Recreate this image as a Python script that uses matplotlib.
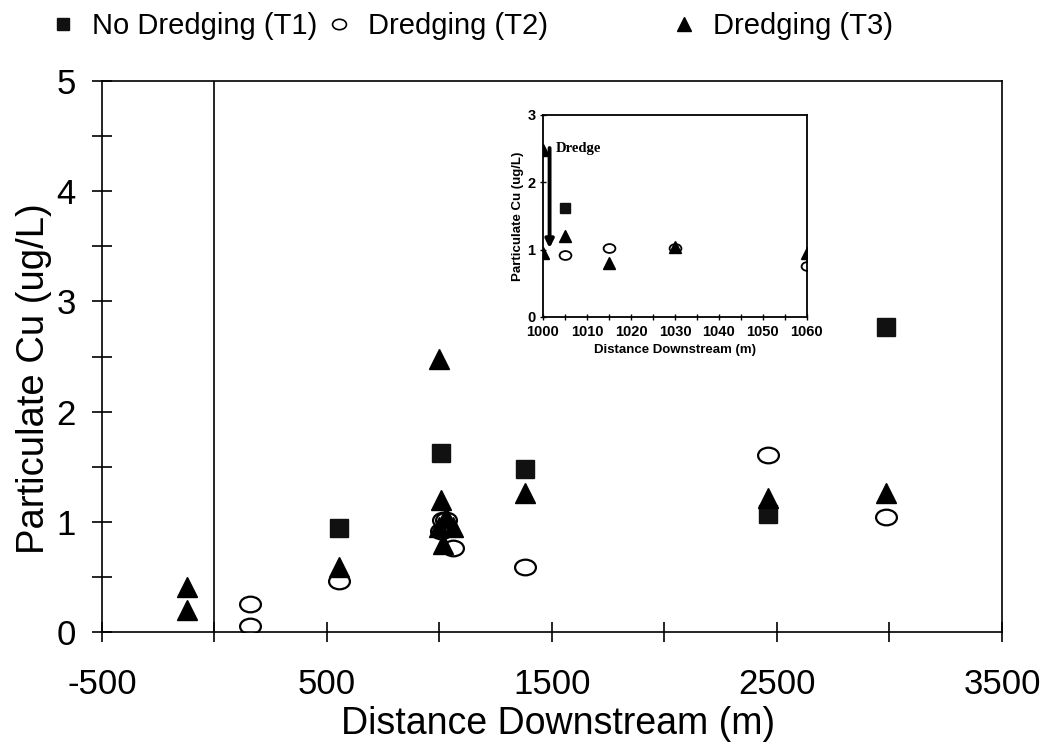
import numpy as np
import matplotlib
matplotlib.use("Agg")
import matplotlib.pyplot as plt
from matplotlib.lines import Line2D
from matplotlib.path import Path
from matplotlib.transforms import Affine2D

plt.rcParams['font.family'] = ['Liberation Sans', 'DejaVu Sans']

# distance downstream (m) and particulate Cu (ug/L) for each treatment
t1_x = [555, 1005, 1380, 2460, 2985]
t1_y = [0.94, 1.62, 1.48, 1.07, 2.77]

t2_x = [156, 156, 555, 1005, 1015, 1030, 1060, 1380, 2460, 2985]
t2_y = [0.25, 0.05, 0.46, 0.92, 1.02, 1.02, 0.76, 0.59, 1.61, 1.04]

t3_x = [-120, -120, 555, 1000, 1000, 1005, 1015, 1030, 1060, 1380, 2460, 2985]
t3_y = [0.41, 0.20, 0.59, 2.48, 0.95, 1.20, 0.80, 1.04, 0.95, 1.26, 1.22, 1.26]

labels = ["No Dredging (T1)", "Dredging (T2)", "Dredging (T3)"]

dredge_x = 1001.5
dredge_top = 2.55
dredge_bottom = 0.98

# the open circles in the original are a bit wider than tall
oval = Affine2D().scale(1.0, 0.75).transform_path(Path.unit_circle())

fig = plt.figure(figsize=(10.47, 7.49), dpi=100)
ax = fig.add_axes([0.0974, 0.1562, 0.8596, 0.7356])

# main plot
ax.plot(t1_x, t1_y, linestyle="none", marker="s", ms=13, color="#111111")
ax.plot(t2_x, t2_y, linestyle="none", marker=oval, ms=15, mfc="white", mec="black", mew=1.6)
ax.plot(t3_x, t3_y, linestyle="none", marker="^", ms=14, color="black")
ax.axvline(0, color="black", lw=1.2, zorder=0)

ax.set_xlim(-500, 3500)
ax.set_ylim(0, 5)
ax.set_xticks(np.arange(-500, 3501, 500))
ax.set_xticklabels(["-500", "", "500", "", "1500", "", "2500", "", "3500"])
ax.set_yticks(np.arange(0, 6, 1))
ax.set_yticks(np.arange(0, 5.01, 0.5), minor=True)
ax.tick_params(axis="both", which="both", direction="inout", length=14, width=1.2, labelsize=25)
ax.tick_params(axis="x", pad=19)
ax.tick_params(axis="y", pad=12)
for s in ax.spines.values():
    s.set_linewidth(1.2)

ax.set_xlabel("Distance Downstream (m)", fontsize=27)
ax.set_ylabel("Particulate Cu (ug/L)", fontsize=27.5)
ax.xaxis.set_label_coords(0.507, -0.135)
ax.yaxis.set_label_coords(-0.055, 0.46)

# legend across the top
handles = [
    Line2D([], [], linestyle="none", marker="s", ms=9, color="#111111"),
    Line2D([], [], linestyle="none", marker=oval, ms=10, mfc="white", mec="black", mew=1.2),
    Line2D([], [], linestyle="none", marker="^", ms=10, color="black"),
]
leg_kw = dict(frameon=False, fontsize=21, borderpad=0, borderaxespad=0,
              handlelength=1.0, handletextpad=0.5, columnspacing=0.25, loc="center left")
fig.legend(handles[:2], labels[:2], ncol=2, bbox_to_anchor=(48 / 1047, 1 - 26 / 749), **leg_kw)
fig.legend(handles[2:], labels[2:], ncol=1, bbox_to_anchor=(669 / 1047, 1 - 26 / 749), **leg_kw)

# inset zoomed on the dredge reach
ins = fig.add_axes([0.5186, 0.5768, 0.2521, 0.2697])
ins.plot(t1_x, t1_y, linestyle="none", marker="s", ms=7, color="#111111")
ins.plot(t2_x, t2_y, linestyle="none", marker=oval, ms=8.5, mfc="white", mec="black", mew=1.3)
ins.plot(t3_x, t3_y, linestyle="none", marker="^", ms=8, color="black")
ins.annotate("", xy=(dredge_x, dredge_bottom), xytext=(dredge_x, dredge_top),
             arrowprops=dict(arrowstyle="-|>", color="black", lw=2.8, mutation_scale=12))
ins.text(dredge_x + 1.3, 2.5, "Dredge", family="Liberation Serif", fontweight="bold",
         fontsize=10.5, va="center", ha="left")

ins.set_xlim(1000, 1060)
ins.set_ylim(0, 3)
ins.set_xticks(np.arange(1000, 1061, 10))
ins.set_xticks(np.arange(1000, 1061, 5), minor=True)
ins.set_yticks([0, 1, 2, 3])
ins.tick_params(axis="both", which="both", direction="inout", length=5, width=1.0, labelsize=10.5, pad=3)
for lab in ins.get_xticklabels() + ins.get_yticklabels():
    lab.set_fontweight("bold")
for s in ins.spines.values():
    s.set_linewidth(1.3)
ins.set_xlabel("Distance Downstream (m)", fontsize=9.5, fontweight="bold", labelpad=4)
ins.set_ylabel("Particulate Cu (ug/L)", fontsize=9.5, fontweight="bold", labelpad=2)

plt.savefig("out.png", dpi=100)
